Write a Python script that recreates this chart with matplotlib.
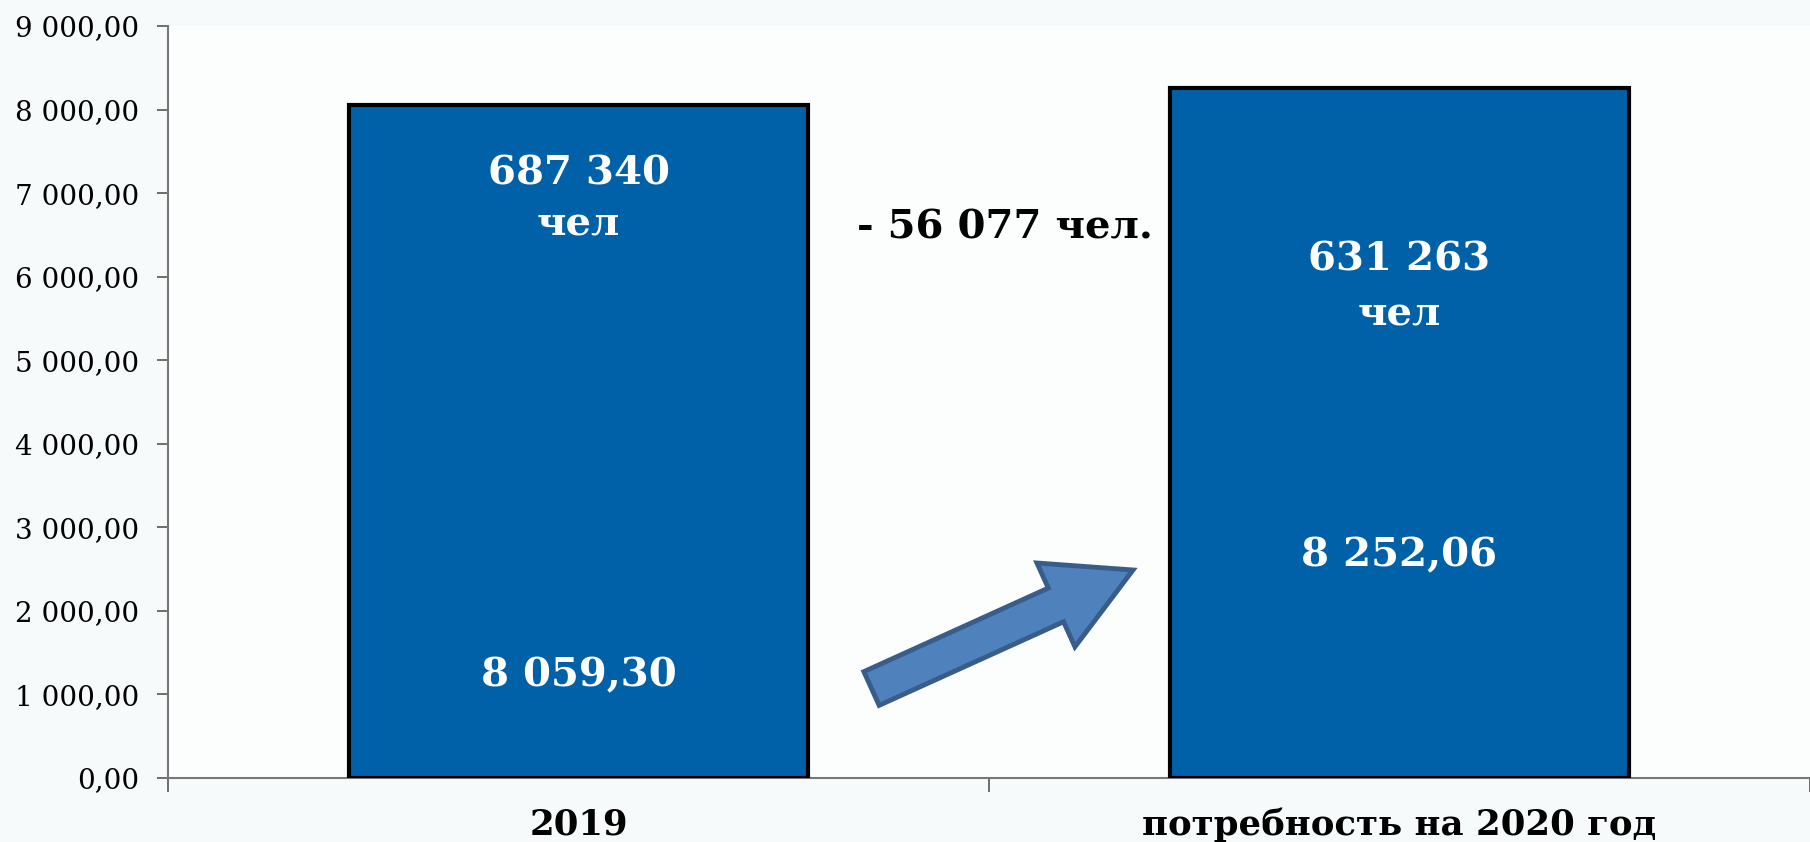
import matplotlib as mpl
import matplotlib.pyplot as plt
from matplotlib.patches import FancyArrow
from matplotlib.ticker import FuncFormatter

mpl.rcParams['font.family'] = ['DejaVu Serif']

# data
categories = ["2019", "потребность на 2020 год"]
values = [8059.30, 8252.06]
value_labels = ["8 059,30", "8 252,06"]
people = ["687 340", "631 263"]
people_unit = "чел"
diff_label = "- 56 077 чел."
yticks = list(range(0, 9001, 1000))

# label heights (data units)
value_y = [1230, 2670]
people_y = [7240, 6200]
unit_y = [6620, 5550]

bar_color = "#0061a9"
fig = plt.figure(figsize=(18.10, 8.42), dpi=100, facecolor="#f7fafb")
ax = fig.add_axes([168/1810, 64/842, 1 - 168/1810, (778-26)/842])
ax.set_facecolor("#fcfdfd")

x = list(range(len(categories)))
ax.bar(x, values, width=0.56, color=bar_color, edgecolor="black", linewidth=3, zorder=3)

ax.set_xlim(-0.5, 1.5)
ax.set_ylim(0, 9000)
ax.set_yticks(yticks)
ax.yaxis.set_major_formatter(FuncFormatter(
    lambda v, p: "{:,.2f}".format(v).replace(",", " ").replace(".", ",")))
ax.tick_params(axis="y", labelsize=20, length=8, width=1.2, color="#555555", pad=13)
ax.set_xticks([-0.5, 0.5, 1.5])
ax.set_xticklabels([])
ax.tick_params(axis="x", length=10, width=1.2, color="#555555")

for s in ["top", "right"]:
    ax.spines[s].set_visible(False)
for s in ["left", "bottom"]:
    ax.spines[s].set_color("#777777")
    ax.spines[s].set_linewidth(1.5)

for i in x:
    ax.text(i, value_y[i], value_labels[i], ha="center", va="center",
            color="white", fontsize=29, fontweight="bold", zorder=4)
    ax.text(i, people_y[i], people[i], ha="center", va="center",
            color="white", fontsize=29, fontweight="bold", zorder=4)
    ax.text(i, unit_y[i], people_unit, ha="center", va="center",
            color="white", fontsize=29, fontweight="bold", zorder=4)
    ax.text(i, -560, categories[i], ha="center", va="center",
            fontsize=25.6, fontweight="bold", clip_on=False)

ax.text(0.52, 6590, diff_label, ha="center", va="center",
        fontsize=29, fontweight="bold", zorder=4)

# arrow (decoration, in figure inches)
arrow = FancyArrow(8.715, 1.535, 2.615, 1.185, width=0.37, head_width=0.92,
                   head_length=0.846, length_includes_head=True,
                   facecolor="#4f81bd", edgecolor="#385d8a", linewidth=3.5,
                   transform=fig.dpi_scale_trans, zorder=5)
fig.add_artist(arrow)

fig.savefig("out.png", dpi=100, facecolor=fig.get_facecolor())
